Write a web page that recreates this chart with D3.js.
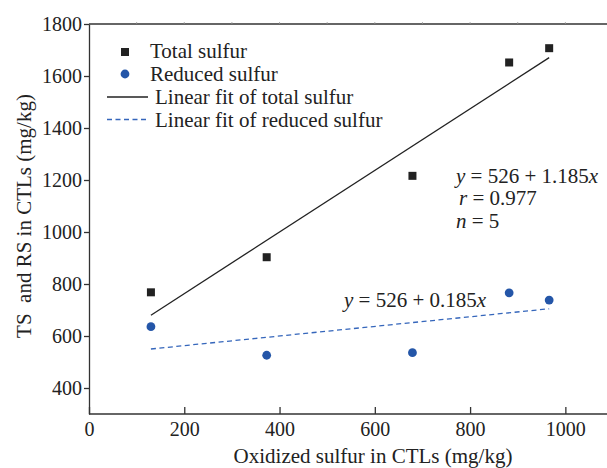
<!DOCTYPE html>
<html>
<head>
<meta charset="utf-8">
<script src="https://cdn.jsdelivr.net/npm/d3@7"></script>
<style>
  body { margin: 0; background: #fff; }
  svg { display: block; font-family: "Liberation Serif", "Times New Roman", serif; }
  text { fill: #222; }
</style>
</head>
<body>
<svg id="chart" width="607" height="468"></svg>
<script>
// oxidized sulfur (x) and the two measured series (y), mg/kg
const oxidized = [130, 373, 679, 882, 966];
const totalSulfur = [768, 903, 1216, 1652, 1707];
const reducedSulfur = [636, 526, 536, 766, 738];

// fitted lines as printed on the chart: y = a + b*x
const fitTotal = {a: 526, b: 1.185};
const fitReduced = {a: 526, b: 0.185};

const xTicks = [0, 200, 400, 600, 800, 1000];
const yTicks = [400, 600, 800, 1000, 1200, 1400, 1600, 1800];
const legendLabels = ['Total sulfur', 'Reduced sulfur', 'Linear fit of total sulfur', 'Linear fit of reduced sulfur'];

const svg = d3.select('#chart');
const blue = '#2456a8';
const dark = '#222';
const serif = '"Liberation Serif", "Times New Roman", serif';

const x = d3.scaleLinear().domain([0, 1100]).range([89, 613]);
const y = d3.scaleLinear().domain([300, 1800]).range([414, 24]);

// left axis, ticks outward
const yAxis = svg.append('g')
    .attr('transform', 'translate(' + x(0) + ',0)')
    .call(d3.axisLeft(y).tickValues(yTicks).tickFormat(d3.format('d'))
        .tickSize(5).tickPadding(2).tickSizeOuter(0));

// bottom axis, ticks inward
const xAxis = svg.append('g')
    .attr('transform', 'translate(0,' + y(300) + ')')
    .call(d3.axisBottom(x).tickValues(xTicks).tickFormat(d3.format('d'))
        .tickSizeInner(-7).tickSizeOuter(0).tickPadding(8));

[yAxis, xAxis].forEach(function(g) {
    g.attr('font-family', serif).attr('font-size', 20);
    g.selectAll('text').attr('fill', dark);
    g.selectAll('line, path').attr('stroke', '#333').attr('stroke-width', 1.3);
});
xAxis.select('.domain').attr('d', 'M' + x(0) + ',0H607');

// top border with faint minor ticks
svg.append('line')
    .attr('x1', x(0)).attr('x2', 607)
    .attr('y1', y(1800)).attr('y2', y(1800))
    .attr('stroke', '#333').attr('stroke-width', 1.3);
svg.append('g').selectAll('line')
    .data(d3.range(100, 1100, 100))
    .enter().append('line')
    .attr('x1', function(d) {return x(d); })
    .attr('x2', function(d) {return x(d); })
    .attr('y1', y(1800) - 2).attr('y2', y(1800))
    .attr('stroke', '#999').attr('stroke-width', 0.8);

// axis titles
svg.append('text')
    .attr('x', 373).attr('y', 463)
    .attr('text-anchor', 'middle')
    .style('font-size', '21px')
    .text('Oxidized sulfur in CTLs (mg/kg)');
svg.append('text')
    .attr('transform', 'translate(31,216) rotate(-90)')
    .attr('text-anchor', 'middle')
    .style('font-size', '21px')
    .text('TS\u00a0 and RS in CTLs (mg/kg)');

// fit lines over the range of the data
const xExt = d3.extent(oxidized);
const fitLine = d3.line()
    .x(function(d) {return x(d[0]); })
    .y(function(d) {return y(d[1]); });

svg.append('path')
    .datum(xExt.map(function(v) {return [v, fitTotal.a + fitTotal.b * v]; }))
    .attr('d', fitLine)
    .attr('fill', 'none').attr('stroke', dark).attr('stroke-width', 1.3);
svg.append('path')
    .datum(xExt.map(function(v) {return [v, fitReduced.a + fitReduced.b * v]; }))
    .attr('d', fitLine)
    .attr('fill', 'none').attr('stroke', '#3566bb').attr('stroke-width', 1.3)
    .attr('stroke-dasharray', '5,3.5');

// points
svg.append('g').selectAll('rect')
    .data(d3.range(oxidized.length))
    .enter().append('rect')
    .attr('x', function(i) {return x(oxidized[i]) - 4; })
    .attr('y', function(i) {return y(totalSulfur[i]) - 4; })
    .attr('width', 8).attr('height', 8)
    .attr('fill', dark);
svg.append('g').selectAll('circle')
    .data(d3.range(oxidized.length))
    .enter().append('circle')
    .attr('cx', function(i) {return x(oxidized[i]); })
    .attr('cy', function(i) {return y(reducedSulfur[i]); })
    .attr('r', 4.4)
    .attr('fill', blue);

// legend
const leg = svg.append('g');
leg.append('rect').attr('x', 121).attr('y', 48).attr('width', 8).attr('height', 8).attr('fill', dark);
leg.append('circle').attr('cx', 125).attr('cy', 74).attr('r', 4.4).attr('fill', blue);
leg.append('line').attr('x1', 107).attr('x2', 148).attr('y1', 97).attr('y2', 97)
    .attr('stroke', dark).attr('stroke-width', 1.3);
leg.append('line').attr('x1', 107).attr('x2', 148).attr('y1', 119.5).attr('y2', 119.5)
    .attr('stroke', '#3566bb').attr('stroke-width', 1.3).attr('stroke-dasharray', '5,3.5');
const legendPos = [[150, 58], [150, 81], [155, 104], [155, 127]];
leg.selectAll('text')
    .data(legendLabels)
    .enter().append('text')
    .attr('x', function(d, i) {return legendPos[i][0]; })
    .attr('y', function(d, i) {return legendPos[i][1]; })
    .style('font-size', '21px')
    .text(function(d) {return d; });

// equation annotations
function fmt(f) {return [['y', true], [' = ' + f.a + ' + ' + f.b.toFixed(3), false], ['x', true]]; }
function addLine(parts, px, py) {
    const t = svg.append('text').attr('x', px).attr('y', py).style('font-size', '21px');
    parts.forEach(function(p) {
        t.append('tspan').style('font-style', p[1] ? 'italic' : 'normal').text(p[0]);
    });
}
addLine(fmt(fitTotal), 456, 183);
addLine([['r', true], [' = 0.977', false]], 459, 205);
addLine([['n', true], [' = ' + oxidized.length, false]], 456, 228);
addLine(fmt(fitReduced), 344, 307);
</script>
</body>
</html>
